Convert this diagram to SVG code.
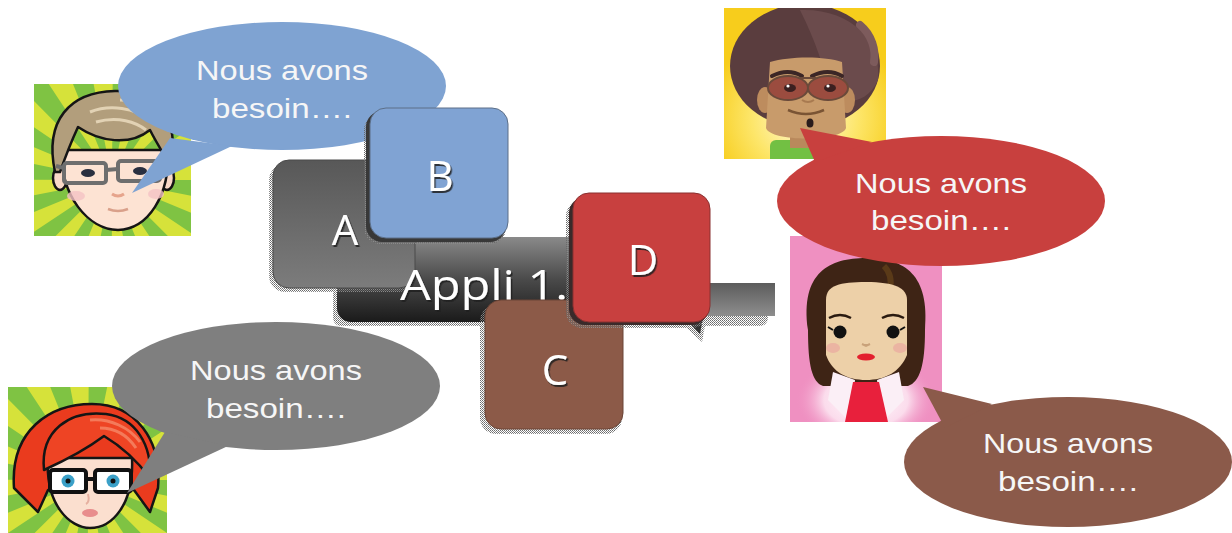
<svg xmlns="http://www.w3.org/2000/svg" width="1232" height="533" viewBox="0 0 1232 533">
  <style>
    .say { font-family: "Liberation Sans", Arial, sans-serif; font-size: 28px; fill: #f6f6f6; text-anchor: middle; }
    .tag { font-family: "Open Sans", "Liberation Sans", sans-serif; font-size: 42px; fill: #ffffff; text-anchor: middle; filter: url(#emboss); }
    .ink { stroke: #151515; stroke-width: 2.5; stroke-linejoin: round; }
  </style>
  <defs>
    <filter id="emboss" x="-20%" y="-20%" width="140%" height="140%">
      <feDropShadow dx="1.5" dy="2" stdDeviation="0.6" flood-color="#222" flood-opacity="0.85"/>
    </filter>
    <pattern id="dither" width="2" height="2" patternUnits="userSpaceOnUse">
      <rect width="1" height="1" fill="#6a6a6a"/>
      <rect x="1" y="1" width="1" height="1" fill="#8a8a8a"/>
    </pattern>
    <linearGradient id="gA" x1="0" y1="0" x2="0" y2="1">
      <stop offset="0" stop-color="#585858"/>
      <stop offset="1" stop-color="#7c7c7c"/>
    </linearGradient>
    <linearGradient id="gBar" x1="0" y1="0" x2="0" y2="1">
      <stop offset="0" stop-color="#8a8a8a"/>
      <stop offset="0.5" stop-color="#4a4a4a"/>
      <stop offset="1" stop-color="#1a1a1a"/>
    </linearGradient>
    <linearGradient id="gBarEnd" x1="0" y1="0" x2="0" y2="1">
      <stop offset="0" stop-color="#5c5c5c"/>
      <stop offset="1" stop-color="#8e8e8e"/>
    </linearGradient>
    <radialGradient id="sun" cx="0.5" cy="0.72" r="0.6">
      <stop offset="0" stop-color="#fffbe0"/>
      <stop offset="0.55" stop-color="#fde66a"/>
      <stop offset="1" stop-color="#f7cd1c"/>
    </radialGradient>
    <radialGradient id="glow" cx="0.5" cy="0.5" r="0.5">
      <stop offset="0" stop-color="#ffffff"/>
      <stop offset="0.6" stop-color="#fbdcec"/>
      <stop offset="1" stop-color="#ef90c1" stop-opacity="0"/>
    </radialGradient>
    <clipPath id="clipBlond"><rect x="34" y="84" width="157" height="152"/></clipPath>
    <clipPath id="clipAfro"><rect x="724" y="8" width="162" height="151"/></clipPath>
    <clipPath id="clipGirl"><rect x="790" y="236" width="152" height="186"/></clipPath>
    <clipPath id="clipRed"><rect x="8" y="387" width="159" height="146"/></clipPath>
  </defs>

  <!-- avatar: blond man with grey glasses -->
  <g id="avatar-blond" clip-path="url(#clipBlond)">
    <rect x="34" y="84" width="157" height="152" fill="#d6e23a"/>
    <circle cx="112" cy="180" r="90" fill="none" stroke="#7fc343" stroke-width="180" stroke-dasharray="17.67 17.67"/>
    <ellipse cx="60" cy="178" rx="7" ry="12" fill="#f9d9c8" class="ink"/>
    <ellipse cx="167" cy="178" rx="7" ry="12" fill="#f9d9c8" class="ink"/>
    <path d="M62,150 C60,196 88,229 118,230 C148,229 170,196 168,150 Z" fill="#fde3d3" class="ink"/>
    <path d="M55,172 C44,120 70,92 115,91 C158,90 180,118 171,168 C165,155 158,146 150,130 C130,146 100,142 78,127 C72,140 66,155 60,172 Z" fill="#b29e7c" class="ink"/>
    <path d="M90,112 C110,104 135,108 150,120 M96,122 C118,116 136,122 146,130 M120,100 C138,100 152,108 160,118" fill="none" stroke="#e2d2b4" stroke-width="3"/>
    <g fill="none" stroke="#6e6e6e" stroke-width="4">
      <rect x="64" y="163" width="42" height="20" rx="3"/>
      <rect x="118" y="161" width="42" height="20" rx="3"/>
      <path d="M106,170 L118,169 M64,168 L56,166 M160,167 L168,165"/>
    </g>
    <ellipse cx="88" cy="173" rx="7" ry="4" fill="#2a3040"/>
    <ellipse cx="140" cy="171" rx="7" ry="4" fill="#2a3040"/>
    <ellipse cx="76" cy="196" rx="9" ry="5" fill="#f4c2c4" opacity="0.8"/>
    <ellipse cx="156" cy="194" rx="8" ry="5" fill="#f4c2c4" opacity="0.8"/>
    <path d="M112,194 Q118,198 124,194" fill="none" stroke="#e6a48c" stroke-width="3"/>
    <path d="M108,209 Q118,213 128,209" fill="none" stroke="#d9a08a" stroke-width="2.5"/>
  </g>

  <!-- avatar: man with afro and tinted glasses -->
  <g id="avatar-afro" clip-path="url(#clipAfro)">
    <rect x="724" y="8" width="162" height="151" fill="url(#sun)"/>
    <ellipse cx="805" cy="66" rx="75" ry="62" fill="#5a3d3e"/>
    <path d="M800,10 C850,8 882,40 878,80 C870,100 850,105 830,100 C826,70 815,40 800,10 Z" fill="#6b4b4c"/>
    <path d="M860,25 C872,35 876,50 874,62" fill="none" stroke="#7d5b5c" stroke-width="8" stroke-linecap="round"/>
    <rect x="770" y="140" width="85" height="25" rx="6" fill="#72c043"/>
    <rect x="790" y="128" width="40" height="20" fill="#b9895c"/>
    <ellipse cx="765" cy="100" rx="8" ry="13" fill="#bd8c5e"/>
    <ellipse cx="847" cy="100" rx="8" ry="13" fill="#bd8c5e"/>
    <path d="M770,62 C790,56 825,56 842,62 L846,128 C842,142 770,142 766,128 Z" fill="#c89b6b"/>
    <path d="M772,76 Q788,68 802,76 M812,76 Q828,68 842,76" fill="none" stroke="#3b2626" stroke-width="4" stroke-linecap="round"/>
    <ellipse cx="788" cy="88" rx="20" ry="12" fill="#9b4c3f" stroke="#6a4a3a" stroke-width="2"/>
    <ellipse cx="828" cy="88" rx="20" ry="12" fill="#9b4c3f" stroke="#6a4a3a" stroke-width="2"/>
    <path d="M800,78 L816,78" stroke="#6a4a3a" stroke-width="2"/>
    <ellipse cx="790" cy="88" rx="6" ry="4" fill="#3b2020"/>
    <ellipse cx="830" cy="88" rx="6" ry="4" fill="#3b2020"/>
    <circle cx="788" cy="86" r="1.6" fill="#fff"/>
    <circle cx="828" cy="86" r="1.6" fill="#fff"/>
    <path d="M802,100 Q808,104 814,100" fill="none" stroke="#a87a50" stroke-width="2"/>
    <path d="M788,110 Q806,118 824,110" fill="none" stroke="#7a5434" stroke-width="2.5"/>
    <ellipse cx="810" cy="123" rx="3.5" ry="4.5" fill="#2a1c1c"/>
  </g>

  <!-- avatar: woman with dark bob on pink -->
  <g id="avatar-girl" clip-path="url(#clipGirl)">
    <rect x="790" y="236" width="152" height="186" fill="#ef90c1"/>
    <ellipse cx="866" cy="400" rx="70" ry="45" fill="url(#glow)"/>
    <path d="M808,330 C800,272 830,258 866,258 C905,258 930,275 925,330 C925,365 920,382 908,386 L823,386 C812,382 808,365 808,330 Z" fill="#3e2415"/>
    <path d="M884,266 C890,272 892,280 890,290" fill="none" stroke="#5a3a18" stroke-width="6"/>
    <path d="M826,300 C826,285 840,282 866,282 C895,282 907,288 907,300 L907,355 C900,372 885,380 866,380 C847,380 832,372 826,355 Z" fill="#edd0a8"/>
    <polygon points="833,372 855,380 850,422 828,400" fill="#fbeff6"/>
    <polygon points="899,372 877,380 882,422 904,400" fill="#fbeff6"/>
    <polygon points="853,382 879,382 888,422 845,422" fill="#e8203c"/>
    <path d="M829,318 Q840,312 851,318 M882,318 Q893,312 904,318" fill="none" stroke="#2a1a10" stroke-width="2.5"/>
    <circle cx="840" cy="332" r="6.5" fill="#111"/>
    <circle cx="893" cy="332" r="6.5" fill="#111"/>
    <path d="M833,330 L828,327 M900,330 L905,327" stroke="#111" stroke-width="2"/>
    <ellipse cx="833" cy="348" rx="7" ry="5" fill="#e9a8a0" opacity="0.7"/>
    <ellipse cx="900" cy="348" rx="7" ry="5" fill="#e9a8a0" opacity="0.7"/>
    <path d="M862,344 L866,346 L870,344" fill="#c9a27a" stroke="#c9a27a" stroke-width="2"/>
    <ellipse cx="866" cy="357" rx="9" ry="3.5" fill="#e3202e"/>
  </g>

  <!-- avatar: red-haired woman with black glasses -->
  <g id="avatar-redhead" clip-path="url(#clipRed)">
    <rect x="8" y="387" width="159" height="146" fill="#d6e23a"/>
    <circle cx="88" cy="480" r="90" fill="none" stroke="#7fc343" stroke-width="180" stroke-dasharray="17.67 17.67"/>
    <path d="M14,488 C10,430 50,404 92,404 C136,404 162,440 158,488 L150,512 L134,490 L48,490 L38,512 Z" fill="#ea3b1e" class="ink"/>
    <path d="M48,458 C45,505 70,528 90,528 C112,528 134,505 132,458 Z" fill="#fbdfcf" class="ink"/>
    <path d="M44,470 C40,430 70,410 106,414 C136,418 152,445 150,478 C138,462 124,448 104,436 C88,448 66,460 44,470 Z" fill="#ee4424" class="ink"/>
    <path d="M90,420 C110,418 130,428 140,442 M100,428 C116,428 128,436 136,448" fill="none" stroke="#f47a5a" stroke-width="3"/>
    <g fill="#fff" stroke="#111" stroke-width="4">
      <rect x="50" y="470" width="36" height="22" rx="3"/>
      <rect x="95" y="470" width="36" height="22" rx="3"/>
    </g>
    <path d="M86,479 L95,479" stroke="#111" stroke-width="4"/>
    <circle cx="68" cy="481" r="6.5" fill="#3aa0c8"/>
    <circle cx="113" cy="481" r="6.5" fill="#3aa0c8"/>
    <circle cx="68" cy="481" r="2.5" fill="#111"/>
    <circle cx="113" cy="481" r="2.5" fill="#111"/>
    <path d="M88,494 Q90,502 86,504" fill="none" stroke="#e6b0a0" stroke-width="2"/>
    <ellipse cx="90" cy="513" rx="8" ry="4" fill="#e88d8d"/>
  </g>

  <!-- speech bubbles -->
  <g id="bubble-blue">
    <ellipse cx="282" cy="86" rx="164" ry="64" fill="#7fa3d2"/>
    <polygon points="170,138 132,193 232,146" fill="#7fa3d2"/>
    <text class="say" x="282" y="80" textLength="172" lengthAdjust="spacingAndGlyphs">Nous avons</text>
    <text class="say" x="282" y="118" textLength="140" lengthAdjust="spacingAndGlyphs">besoin….</text>
  </g>
  <g id="bubble-red">
    <ellipse cx="941" cy="201" rx="164" ry="65" fill="#c8403e"/>
    <polygon points="815,162 800,128 872,142" fill="#c8403e"/>
    <text class="say" x="941" y="193" textLength="172" lengthAdjust="spacingAndGlyphs">Nous avons</text>
    <text class="say" x="941" y="230" textLength="140" lengthAdjust="spacingAndGlyphs">besoin….</text>
  </g>
  <g id="bubble-grey">
    <ellipse cx="276" cy="386" rx="164" ry="64" fill="#7f7f7f"/>
    <polygon points="165,432 127,493 228,446" fill="#7f7f7f"/>
    <text class="say" x="276" y="380" textLength="172" lengthAdjust="spacingAndGlyphs">Nous avons</text>
    <text class="say" x="276" y="418" textLength="140" lengthAdjust="spacingAndGlyphs">besoin….</text>
  </g>
  <g id="bubble-brown">
    <ellipse cx="1068" cy="462" rx="164" ry="65" fill="#8b5a4a"/>
    <polygon points="923,387 992,404 945,428" fill="#8b5a4a"/>
    <text class="say" x="1068" y="453" textLength="170" lengthAdjust="spacingAndGlyphs">Nous avons</text>
    <text class="say" x="1068" y="491" textLength="140" lengthAdjust="spacingAndGlyphs">besoin….</text>
  </g>

  <!-- application bar -->
  <g id="appli">
    <rect x="333" y="300" width="435" height="26" rx="8" fill="url(#dither)"/>
    <rect x="333" y="241" width="10" height="70" fill="url(#dither)"/>
    <rect x="700" y="283" width="75" height="33" fill="url(#gBarEnd)"/>
    <rect x="337" y="237" width="372" height="85" rx="14" fill="url(#gBar)"/>
    <polygon points="680,322 702,342 706,320" fill="url(#dither)"/>
    <polygon points="684,318 700,334 703,318" fill="#333"/>
  </g>

  <g id="box-a">
    <rect x="269" y="164" width="146" height="128" rx="16" fill="url(#dither)"/>
    <rect x="273" y="160" width="142" height="128" rx="16" fill="url(#gA)" stroke="#4a4a4a" stroke-width="1"/>
    <text class="tag" x="345" y="245">A</text>
  </g>

  <text class="tag" x="484" y="300" textLength="168" lengthAdjust="spacingAndGlyphs" font-size="46">Appli 1.</text>

  <g id="box-b">
    <rect x="364" y="114" width="142" height="130" rx="16" fill="url(#dither)"/>
    <rect x="366" y="111" width="140" height="131" rx="16" fill="#383838"/>
    <rect x="370" y="108" width="138" height="130" rx="16" fill="#80a3d3" stroke="#5c6f88" stroke-width="1"/>
    <text class="tag" x="440" y="191">B</text>
  </g>

  <g id="box-c">
    <rect x="480" y="305" width="142" height="129" rx="16" fill="url(#dither)"/>
    <rect x="485" y="300" width="138" height="129" rx="16" fill="#8c5a48" stroke="#6a4436" stroke-width="1"/>
    <text class="tag" x="555" y="385">C</text>
  </g>

  <g id="box-d">
    <rect x="566" y="200" width="142" height="128" rx="16" fill="url(#dither)"/>
    <rect x="569" y="197" width="139" height="128" rx="16" fill="#3a2a2a"/>
    <rect x="573" y="193" width="137" height="129" rx="16" fill="#c8403f" stroke="#8a3030" stroke-width="1"/>
    <text class="tag" x="643" y="275">D</text>
  </g>
</svg>
